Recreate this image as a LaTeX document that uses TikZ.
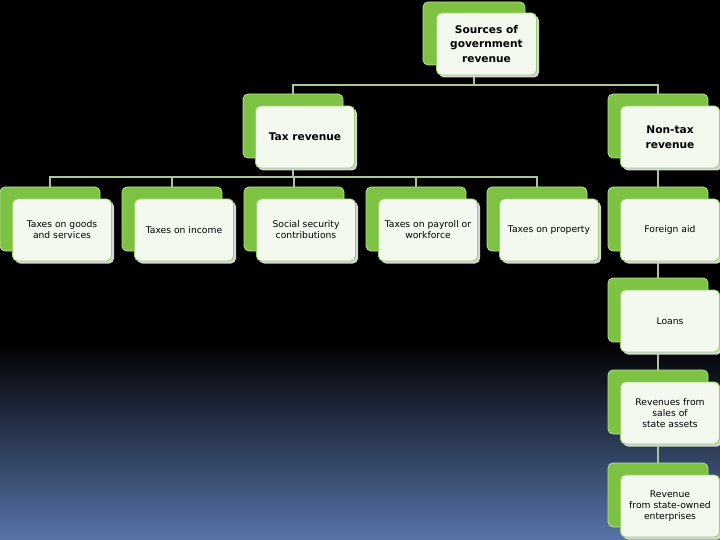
\documentclass[tikz,border=0pt]{standalone}
\usepackage{fontspec}
\setmainfont{DejaVu Sans}
\usetikzlibrary{shadows}
\definecolor{greenback}{HTML}{7DC243}
\definecolor{greenedge}{HTML}{B9E29A}
\definecolor{greenline}{HTML}{9ACF6A}
\definecolor{frontfill}{HTML}{F3F9EE}
\definecolor{shadowgray}{HTML}{D4D5DA}
\definecolor{linkcol}{HTML}{A9C796}
\definecolor{bgblue}{HTML}{5773A8}
\pgfdeclarelayer{bglayer}
\pgfdeclarelayer{linklayer}
\pgfsetlayers{bglayer,linklayer,main}
\tikzset{
  backbox/.style={draw=greenedge, line width=0.8, fill=greenback, rounded corners=5,
    minimum width=100, minimum height=64, inner sep=0},
  frontbox/.style={draw=greenline, line width=0.9, fill=frontfill, rounded corners=5,
    minimum width=99, minimum height=62, inner sep=1, align=center,
    font=\fontsize{9.2}{11}\selectfont,
    drop shadow={fill=shadowgray, opacity=1, shadow xshift=2.5pt, shadow yshift=-2.5pt}},
  titlebox/.style={font=\bfseries\fontsize{10.6}{14.5}\selectfont},
  link/.style={draw=linkcol, line width=2.3}
}
\begin{document}
\begin{tikzpicture}[x=1pt,y=-1pt]
\useasboundingbox (0,0) rectangle (720,540);
\begin{pgfonlayer}{bglayer}
  \fill[black] (0,0) rectangle (720,540);
  \shade[top color=black, bottom color=bgblue] (0,342) rectangle (720,540);
\end{pgfonlayer}
% top
\node[backbox, minimum width=102, minimum height=63] (srcB) at (474,33.5) {};
\node[frontbox, titlebox, minimum width=100] (src) at (486.5,44) {Sources of\\government\\revenue};
% level 2
\node[backbox] (taxB) at (293,126) {};
\node[frontbox, titlebox] (tax) at (305,137) {Tax revenue};
\node[backbox] (ntB) at (658,126) {};
\node[frontbox, titlebox] (nt) at (670,137) {Non-tax\\revenue};
% level 3
\node[backbox] (t1B) at (50,219) {};
\node[frontbox] (t1) at (62,230) {Taxes on goods\\and services};
\node[backbox] (t2B) at (172,219) {};
\node[frontbox] (t2) at (184,230) {Taxes on income};
\node[backbox] (t3B) at (294,219) {};
\node[frontbox] (t3) at (306,230) {Social security\\contributions};
\node[backbox] (t4B) at (416,219) {};
\node[frontbox] (t4) at (428,230) {Taxes on payroll or\\workforce};
\node[backbox] (t5B) at (537,219) {};
\node[frontbox] (t5) at (549,230) {Taxes on property};
% non-tax column
\node[backbox] (n1B) at (658,219) {};
\node[frontbox] (n1) at (670,230) {Foreign aid};
\node[backbox] (n2B) at (658,310) {};
\node[frontbox] (n2) at (670,321) {Loans};
\node[backbox] (n3B) at (658,402) {};
\node[frontbox] (n3) at (670,413) {Revenues from\\sales of\\state assets};
\node[backbox] (n4B) at (658,495) {};
\node[frontbox] (n4) at (670,506) {Revenue\\from state-owned\\enterprises};
% connectors
\coordinate (bus1) at (474,85);
\coordinate (bus2) at (293,177);
\begin{pgfonlayer}{linklayer}
  \draw[link] (srcB.center) -- (bus1);
  \draw[link] (taxB.center) |- (bus1) -| (ntB.center);
  \draw[link] (taxB.center) -- (bus2);
  \draw[link] (t1B.center) |- (bus2) -| (t5B.center);
  \draw[link] (t2B.center) -- (t2B.center |- bus2);
  \draw[link] (t3B.center) -- (t3B.center |- bus2);
  \draw[link] (t4B.center) -- (t4B.center |- bus2);
  \draw[link] (ntB.center) -- (n1B.center) -- (n2B.center) -- (n3B.center) -- (n4B.center);
\end{pgfonlayer}
\end{tikzpicture}
\end{document}
